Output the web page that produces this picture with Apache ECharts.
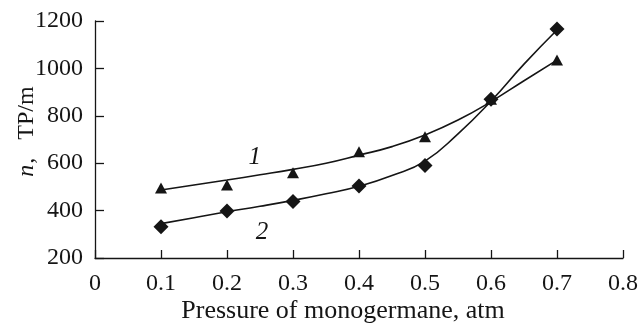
<!DOCTYPE html>
<html><head><meta charset="utf-8">
<script src="https://cdn.jsdelivr.net/npm/echarts@6/dist/echarts.min.js"></script>
<style>html,body{margin:0;padding:0;background:#fff}#c{width:641px;height:323px}</style>
</head><body><div id="c"></div>
<script>
// Measured points
const pressure = [0.1, 0.2, 0.3, 0.4, 0.5, 0.6, 0.7];
const series1 = [495, 508, 560, 648, 712, 870, 1035];   // triangles, curve 1
const series2 = [332, 398, 438, 504, 590, 870, 1166];   // diamonds, curve 2
// Fitted curves
const fitX = [0.1, 0.15, 0.2, 0.25, 0.3, 0.35, 0.4, 0.45, 0.5, 0.55, 0.6, 0.65, 0.7];
const fit1 = [487, 508, 529, 551, 574, 600, 634, 670, 719, 782, 860, 948, 1035];
const fit2 = [345, 370, 395, 418, 443, 471, 503, 548, 609, 724, 862, 1018, 1162];
// Curve labels
const curveLabels = [['1', 0.242, 626], ['2', 0.253, 310]];

const FONT = '"Liberation Serif", "Times New Roman", serif';
const C = '#151515';
const chart = echarts.init(document.getElementById('c'), null, {renderer: 'canvas'});
const zip = (xs, ys) => xs.map((x, i) => [x, ys[i]]);
chart.setOption({
  animation: false,
  backgroundColor: '#fff',
  grid: {left: 95, right: 18, top: 21, bottom: 65, containLabel: false, outerBoundsMode: 'none'},
  xAxis: {
    type: 'value', min: 0, max: 0.8, interval: 0.1,
    name: 'Pressure of monogermane, atm', nameLocation: 'middle', nameGap: 40, nameMoveOverlap: false,
    nameTextStyle: {fontFamily: FONT, fontSize: 26, color: C, padding: [0, 32, 0, 0]},
    axisLine: {lineStyle: {color: C, width: 1.3}},
    axisTick: {inside: true, length: 8, lineStyle: {color: C, width: 1.3}},
    axisLabel: {fontFamily: FONT, fontSize: 24, color: C, margin: 14,
      formatter: v => v === 0 ? '0' : v.toFixed(1)},
    splitLine: {show: false}
  },
  yAxis: {
    type: 'value', min: 200, max: 1200, interval: 200,
    name: '{i|n}{c|,}TP/m', nameLocation: 'middle', nameGap: 56, nameRotate: 90, nameMoveOverlap: false,
    nameTextStyle: {fontFamily: FONT, fontSize: 24, color: C, padding: [0, 0, 0, 16],
      rich: {
        i: {fontFamily: FONT, fontSize: 24, fontStyle: 'italic', color: C},
        c: {fontFamily: FONT, fontSize: 24, color: C, padding: [0, 18, 0, 1]}
      }},
    axisLine: {show: true, lineStyle: {color: C, width: 1.3}},
    axisTick: {show: true, inside: true, length: 9, lineStyle: {color: C, width: 1.3}},
    axisLabel: {fontFamily: FONT, fontSize: 24, color: C, margin: 12, formatter: v => String(v)},
    splitLine: {show: false}
  },
  series: [
    {type: 'line', data: zip(fitX, fit1), smooth: 0.5, showSymbol: false,
      lineStyle: {color: C, width: 1.6}, z: 2},
    {type: 'line', data: zip(fitX, fit2), smooth: 0.5, showSymbol: false,
      lineStyle: {color: C, width: 1.6}, z: 2},
    {type: 'scatter', data: zip(pressure, series1), symbol: 'triangle', symbolSize: [12, 11],
      itemStyle: {color: C, opacity: 1}, z: 3},
    {type: 'scatter', data: zip(pressure, series2), symbol: 'diamond', symbolSize: [15, 15],
      itemStyle: {color: C, opacity: 1}, z: 3},
    {type: 'scatter', symbolSize: 0, itemStyle: {opacity: 1},
      data: curveLabels.map(d => ({value: [d[1], d[2]], name: d[0]})),
      label: {show: true, position: 'inside', formatter: p => p.name, fontFamily: FONT,
        fontStyle: 'italic', fontSize: 25, color: C}, z: 4}
  ]
});
</script></body></html>
